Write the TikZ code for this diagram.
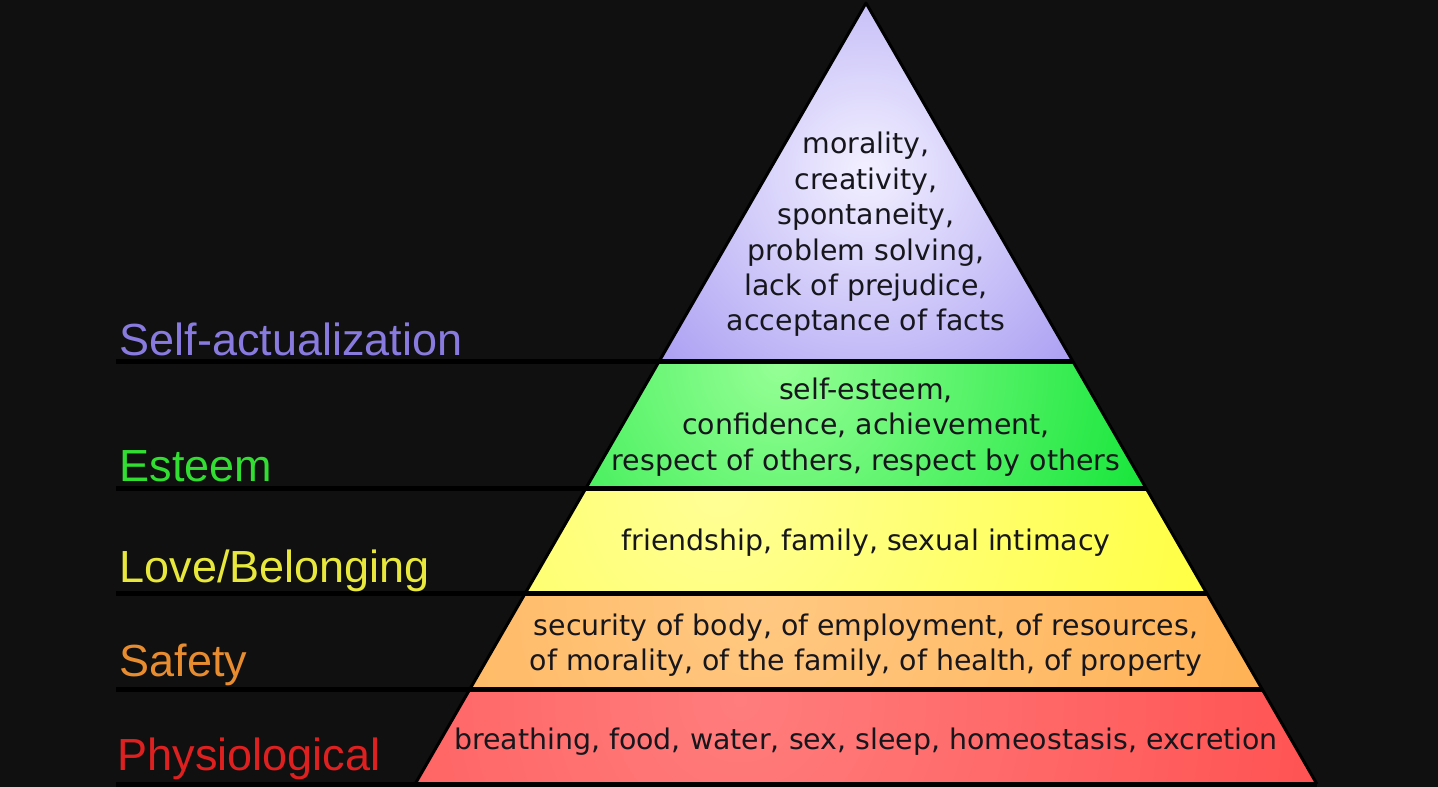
\documentclass[tikz,border=0pt]{standalone}
\usepackage{fontspec}
\newfontfamily\pyrfont{DejaVu Sans}
\newfontfamily\lblfont{Liberation Sans}
\definecolor{bg}{RGB}{16,16,16}
\definecolor{saIn}{RGB}{242,240,255}
\definecolor{saOut}{RGB}{125,108,235}
\definecolor{esIn}{RGB}{150,255,150}
\definecolor{esOut}{RGB}{25,230,60}
\definecolor{loIn}{RGB}{255,255,150}
\definecolor{loOut}{RGB}{255,255,0}
\definecolor{sfIn}{RGB}{255,200,130}
\definecolor{sfOut}{RGB}{255,158,45}
\definecolor{phIn}{RGB}{255,125,125}
\definecolor{phOut}{RGB}{255,45,45}
\definecolor{saLbl}{RGB}{136,122,222}
\definecolor{esLbl}{RGB}{50,222,50}
\definecolor{loLbl}{RGB}{232,232,60}
\definecolor{sfLbl}{RGB}{232,140,48}
\definecolor{phLbl}{RGB}{222,32,32}
\definecolor{txt}{RGB}{22,22,28}
\begin{document}
\begin{tikzpicture}[x=1pt,y=-1pt,
  sep/.style={black,line width=5pt},
  edge/.style={black,line width=3pt,line join=round},
  lbl/.style={anchor=base west,inner sep=0pt,font=\lblfont\fontsize{45}{50}\selectfont},
  pyr/.style={inner sep=0pt,align=center,text=txt,font=\pyrfont\fontsize{28.4}{35.4}\selectfont}]
\useasboundingbox (0,0) rectangle (1438,787);
\fill[bg] (0,0) rectangle (1438,787);
% corner coordinates
\coordinate (apex) at (866,3);
\coordinate (L1) at (659.3,361); \coordinate (R1) at (1072.7,361);
\coordinate (L2) at (586.0,488); \coordinate (R2) at (1146.0,488);
\coordinate (L3) at (525.3,593); \coordinate (R3) at (1206.7,593);
\coordinate (L4) at (469.9,689); \coordinate (R4) at (1262.1,689);
\coordinate (L5) at (415.1,784); \coordinate (R5) at (1316.9,784);
% left ends of separators
\coordinate (S1) at (116,361);
\coordinate (S2) at (116,488);
\coordinate (S3) at (116,593);
\coordinate (S4) at (116,689);
\coordinate (S5) at (116,784);
% layers
\begin{scope}
\clip (apex) -- (L1) -- (R1) -- cycle;
\shade[inner color=saIn,outer color=saOut] (866-460,170-460) rectangle (866+460,170+460);
\end{scope}
\begin{scope}
\clip (L1) -- (L2) -- (R2) -- (R1) -- cycle;
\shade[inner color=esIn,outer color=esOut] (780-380,362-380) rectangle (780+380,362+380);
\end{scope}
\begin{scope}
\clip (L2) -- (L3) -- (R3) -- (R2) -- cycle;
\shade[inner color=loIn,outer color=loOut] (720-900,490-900) rectangle (720+900,490+900);
\end{scope}
\begin{scope}
\clip (L3) -- (L4) -- (R4) -- (R3) -- cycle;
\shade[inner color=sfIn,outer color=sfOut] (760-960,597-960) rectangle (760+960,597+960);
\end{scope}
\begin{scope}
\clip (L4) -- (L5) -- (R5) -- (R4) -- cycle;
\shade[inner color=phIn,outer color=phOut] (740-1100,700-1100) rectangle (740+1100,700+1100);
\end{scope}
% outline and separators
\draw[edge] (L5) -- (apex) -- (R5);
\draw[sep] (S1) -- (R1);
\draw[sep] (S2) -- (R2);
\draw[sep] (S3) -- (R3);
\draw[sep] (S4) -- (R4);
\draw[sep] (S5) -- (R5);
% labels
\node[lbl,text=saLbl] (lsa) at (119.5,355.5) {Self-actualization};
\node[lbl,text=esLbl] (les) at (119.5,481) {Esteem};
\node[lbl,text=loLbl] (llo) at (119.5,582) {Love/Belonging};
\node[lbl,text=sfLbl] (lsf) at (119.5,676) {Safety};
\node[lbl,text=phLbl] (lph) at (117.5,770.5) {Physiological};
% pyramid texts
\node[pyr] (tsa) at (866,234.5) {morality,\\creativity,\\spontaneity,\\problem solving,\\lack of prejudice,\\acceptance of facts};
\node[pyr] (tes) at (866,426.8) {self-esteem,\\confidence, achievement,\\respect of others, respect by others};
\node[pyr,anchor=base] (tlo) at (866,550) {friendship, family, sexual intimacy};
\node[pyr] (tsf) at (866,645.3) {security of body, of employment, of resources,\\of morality, of the family, of health, of property};
\node[pyr,anchor=base] (tph) at (866,749.7) {breathing, food, water, sex, sleep, homeostasis, excretion};
\end{tikzpicture}
\end{document}
